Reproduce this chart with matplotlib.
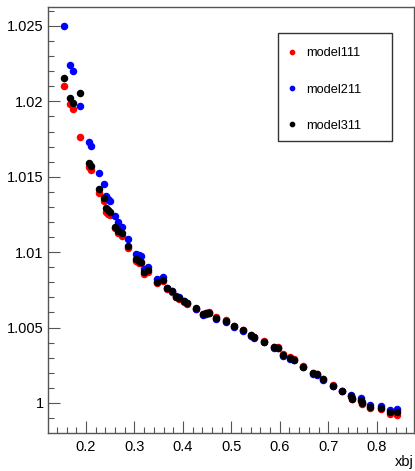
#!/usr/bin/env python3
"""
Model comparison vs xbj (ROOT-style scatter)
"""
import matplotlib
matplotlib.use('Agg')
import matplotlib.pyplot as plt
from matplotlib.patches import Rectangle
from matplotlib.ticker import MultipleLocator, FuncFormatter

plt.rcParams['font.family'] = ['Liberation Sans', 'DejaVu Sans']

# xbj bins (shared by all models)
xbj = [0.155, 0.168, 0.173, 0.188, 0.206, 0.211, 0.227, 0.2365, 0.241, 0.246,
       0.250, 0.2595, 0.267, 0.2745, 0.286, 0.303, 0.310, 0.3135, 0.320, 0.328,
       0.346, 0.3595, 0.368, 0.377, 0.386, 0.392, 0.403, 0.409, 0.427, 0.441,
       0.4475, 0.4545, 0.468, 0.488, 0.506, 0.525, 0.540, 0.547, 0.568, 0.588,
       0.596, 0.607, 0.621, 0.630, 0.6485, 0.669, 0.676, 0.690, 0.709, 0.729,
       0.747, 0.7485, 0.767, 0.769, 0.787, 0.808, 0.827, 0.843]

model111 = [1.02102, 1.01981, 1.01950, 1.01764, 1.01567, 1.01548, 1.01395, 1.01342, 1.01264, 1.01255,
            1.01249, 1.01160, 1.01130, 1.01110, 1.01026, 1.00940, 1.00930, 1.00928, 1.00853, 1.00870,
            1.00797, 1.00810, 1.00755, 1.00738, 1.00700, 1.00690, 1.00670, 1.00655, 1.00625, 1.00592,
            1.00596, 1.00600, 1.00568, 1.00547, 1.00513, 1.00487, 1.00451, 1.00438, 1.00409, 1.00374,
            1.00370, 1.00322, 1.00308, 1.00290, 1.00243, 1.00200, 1.00195, 1.00160, 1.00117, 1.00082,
            1.00046, 1.00024, 1.00014, 0.99993, 0.99968, 0.99962, 0.99927, 0.99922]

model211 = [1.02500, 1.02241, 1.02202, 1.01972, 1.01733, 1.01702, 1.01523, 1.01454, 1.01375, 1.01353,
            1.01338, 1.01242, 1.01198, 1.01169, 1.01085, 1.00988, 1.00978, 1.00975, 1.00890, 1.00900,
            1.00820, 1.00833, 1.00765, 1.00745, 1.00708, 1.00700, 1.00678, 1.00663, 1.00625, 1.00586,
            1.00590, 1.00595, 1.00558, 1.00538, 1.00506, 1.00479, 1.00444, 1.00431, 1.00403, 1.00366,
            1.00362, 1.00313, 1.00294, 1.00282, 1.00238, 1.00194, 1.00187, 1.00155, 1.00113, 1.00078,
            1.00055, 1.00030, 1.00030, 1.00004, 0.99985, 0.99980, 0.99952, 0.99962]

model311 = [1.02153, 1.02025, 1.01989, 1.02056, 1.01592, 1.01570, 1.01417, 1.01357, 1.01291, 1.01277,
            1.01264, 1.01169, 1.01143, 1.01125, 1.01041, 1.00953, 1.00942, 1.00938, 1.00871, 1.00882,
            1.00800, 1.00816, 1.00761, 1.00743, 1.00705, 1.00696, 1.00676, 1.00661, 1.00627, 1.00592,
            1.00595, 1.00599, 1.00566, 1.00544, 1.00511, 1.00484, 1.00449, 1.00436, 1.00407, 1.00371,
            1.00367, 1.00318, 1.00300, 1.00287, 1.00241, 1.00197, 1.00190, 1.00157, 1.00113, 1.00078,
            1.00048, 1.00027, 1.00018, 0.99998, 0.99972, 0.99967, 0.99941, 0.99940]

series = [('model111', model111, '#ff0000'),
          ('model211', model211, '#0000ff'),
          ('model311', model311, '#000000')]

fig = plt.figure(figsize=(4.15, 4.71), dpi=100)
ax = fig.add_axes([0.115, 0.0813, 0.8825, 0.904])

for name, vals, col in series:
    ax.plot(xbj, vals, 'o', color=col, ms=4.4, mec=col, label=name)

ax.set_xlim(0.121, 0.877)
ax.set_ylim(0.99803, 1.02626)

# ROOT-like axes: ticks inside, only left/bottom
edge = '#555555'
for s in ax.spines.values():
    s.set_color(edge)
    s.set_linewidth(1.0)
ax.xaxis.set_major_locator(MultipleLocator(0.1))
ax.xaxis.set_minor_locator(MultipleLocator(0.02))
ax.yaxis.set_major_locator(MultipleLocator(0.005))
ax.yaxis.set_minor_locator(MultipleLocator(0.001))
fmt = FuncFormatter(lambda v, p: '{:g}'.format(round(v, 6)))
ax.xaxis.set_major_formatter(fmt)
ax.yaxis.set_major_formatter(fmt)
ax.tick_params(which='both', direction='in', top=False, right=False,
               color=edge, width=0.8, labelsize=10.5)
ax.tick_params(which='major', length=8.5)
ax.tick_params(which='minor', length=4.3)
ax.tick_params(axis='y', pad=2.8)
ax.tick_params(axis='x', pad=5.5)

ax.text(1.0, -0.053, 'xbj', transform=ax.transAxes, ha='right', va='top', fontsize=10.5)

# legend box
ax.add_patch(Rectangle((0.628, 0.6845), 0.311, 0.2545, transform=ax.transAxes,
                       fill=False, edgecolor='#333333', linewidth=1.0, zorder=5))
ax.legend(loc='upper left', bbox_to_anchor=(0.628, 0.932), frameon=False,
          fontsize=9.2, markerscale=0.7, handlelength=0.5, handletextpad=0.85,
          borderpad=0.9, labelspacing=1.9, borderaxespad=0)

plt.savefig('out.png', dpi=100, facecolor='white')
plt.close()
